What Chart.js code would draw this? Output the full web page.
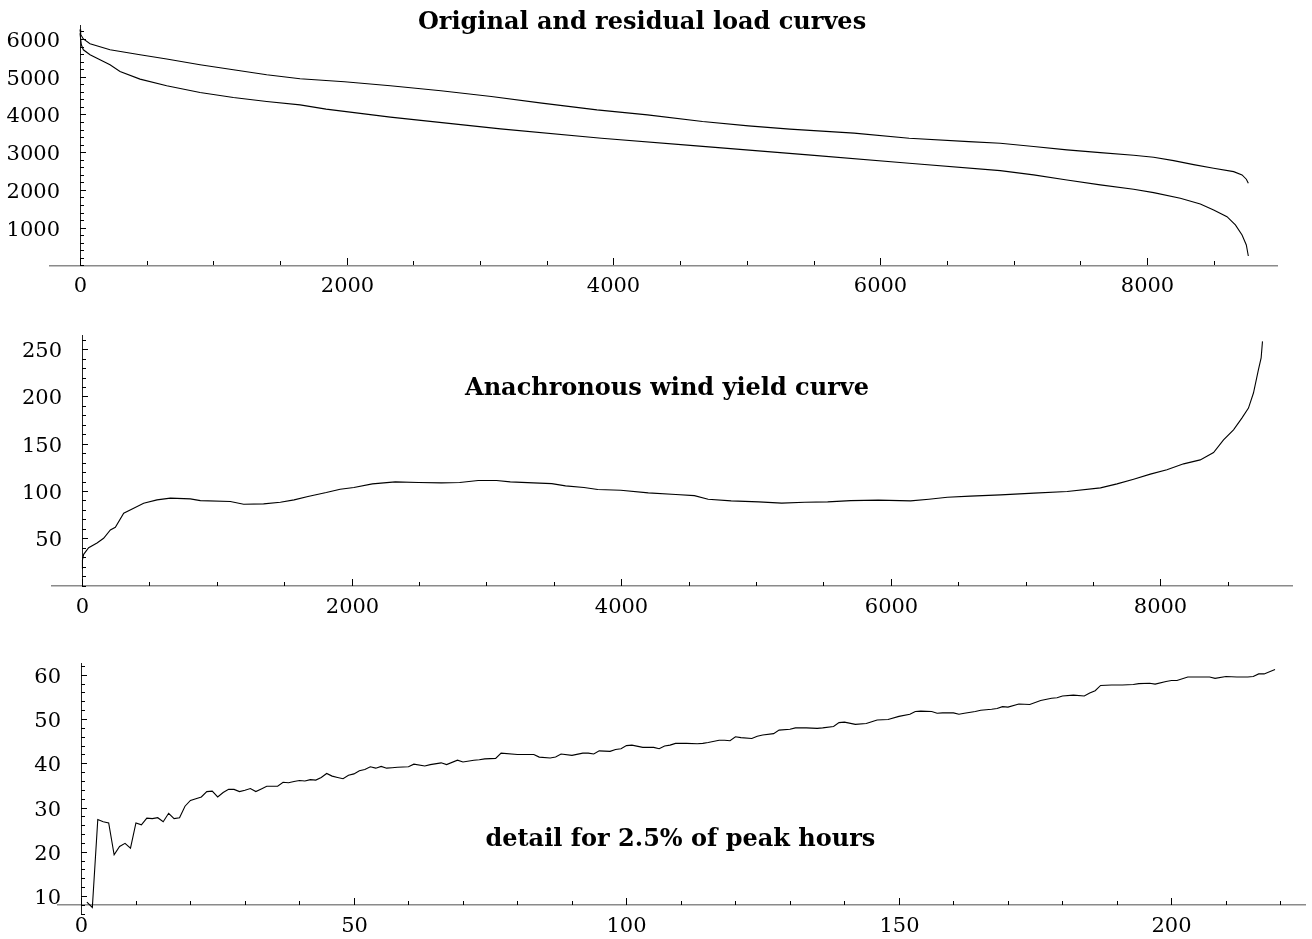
<!DOCTYPE html>
<html>
<head>
<meta charset="utf-8">
<title>Load and wind curves</title>
<script src="https://cdn.jsdelivr.net/npm/chart.js@4.4.1/dist/chart.umd.min.js"></script>
<style>
  html, body { margin: 0; padding: 0; background: #fff; }
  body { width: 1312px; height: 939px; position: relative; overflow: hidden; }
  canvas { position: absolute; left: 0; }
</style>
</head>
<body>
<canvas id="loadchart" width="1312" height="310" style="top:0px"></canvas>
<canvas id="windchart" width="1312" height="310" style="top:310px"></canvas>
<canvas id="detailchart" width="1312" height="319" style="top:620px"></canvas>
<script>
// ---- Data block ----

// Original load duration curve (hours sorted, MW)
const originalHours = [0, 5, 25, 75, 225, 450, 650, 900, 1150, 1400, 1650, 1983, 2327, 2706, 3084,
    3463, 3876, 4255, 4668, 5012, 5322, 5804, 6217, 6664, 6900, 7150, 7400, 7650, 7900, 8050,
    8200, 8350, 8500, 8650, 8713, 8745, 8760];
const originalLoad = [6250, 6120, 6000, 5873, 5713, 5581, 5467, 5316, 5183, 5050, 4944, 4865, 4759, 4626, 4475,
    4300, 4122, 3989, 3812, 3698, 3610, 3504, 3371, 3281, 3235, 3150, 3061, 2989, 2920, 2867,
    2777, 2671, 2576, 2485, 2398, 2284, 2178];

// Residual load duration curve
const residualHours = [0, 10, 25, 75, 150, 225, 300, 450, 650, 900, 1150, 1400, 1650, 1845, 2327,
    3153, 3910, 4599, 5459, 6217, 6900, 7150, 7400, 7650, 7900, 8050, 8250, 8400, 8500, 8600,
    8663, 8713, 8745, 8760];
const residualLoad = [6150, 5846, 5713, 5581, 5448, 5316, 5138, 4936, 4759, 4581, 4449, 4342, 4254, 4141, 3928,
    3618, 3371, 3175, 2928, 2708, 2512, 2398, 2265, 2133, 2019, 1928, 1780, 1629, 1469, 1292,
    1072, 806, 541, 249];

// Anachronous wind yield curve
const windHours = [0, 3, 12, 49, 111, 160, 210, 247, 309, 383, 457, 556, 655, 803, 878,
    1100, 1199, 1347, 1471, 1573, 1676, 1812, 1915, 2017, 2154, 2324, 2495, 2666, 2802, 2939,
    3075, 3177, 3348, 3485, 3587, 3724, 3826, 3997, 4201, 4406, 4543, 4645, 4816, 5020, 5191,
    5362, 5532, 5703, 5908, 6147, 6283, 6420, 6590, 6815, 7062, 7309, 7556, 7679, 7802, 7926,
    8049, 8173, 8296, 8395, 8469, 8543, 8605, 8654, 8691, 8728, 8748, 8758];
const windYield = [18, 27, 33, 40, 45, 50, 58.8, 61.6, 76.5, 81.8, 87, 90.6, 92.4, 91.6, 89.8,
    88.8, 86, 86.3, 88.1, 90.6, 94.1, 98.3, 101.9, 103.6, 107.5, 109.6, 108.9, 108.6, 108.9, 111,
    111, 109.6, 108.6, 107.8, 105.4, 103.6, 101.5, 100.8, 98, 96.2, 95.1, 91.3, 89.5, 88.5, 87.1,
    88.1, 88.5, 89.8, 90.3, 89.5, 91.3, 93.4, 94.5, 95.9, 97.7, 99.4, 103.3, 107.5, 112.5, 117.8,
    122.4, 128.7, 132.9, 140.7, 154.1, 164.7, 177.1, 187.7, 203.6, 228.3, 240.7, 258.3];

// Detail: first 2.5% of peak hours
const detailHours = [1, 2, 3, 4, 5, 6, 7, 8, 9, 10, 11, 12, 13, 14, 15, 16, 17, 18, 19, 20,
    21, 22, 23, 24, 25, 26, 27, 28, 29, 30, 31, 32, 33, 34, 35, 36, 37, 38, 39, 40,
    41, 42, 43, 44, 45, 46, 47, 48, 49, 50, 51, 52, 53, 54, 55, 56, 57, 58, 60, 61,
    63, 64, 66, 67, 69, 70, 72, 73, 74, 76, 77, 80, 83, 84, 86, 87, 88, 90, 92, 93,
    94, 95, 97, 98, 99, 100, 101, 103, 105, 106, 107, 108, 109, 111, 113, 114, 115, 117, 118, 119,
    120, 121, 123, 124, 125, 127, 128, 130, 131, 133, 135, 136, 138, 139, 140, 142, 144, 145, 146, 148,
    150, 152, 153, 154, 156, 157, 158, 160, 161, 162, 164, 165, 167, 168, 169, 170, 172, 174, 176, 178,
    179, 180, 182, 184, 185, 186, 187, 189, 191, 193, 194, 196, 197, 199, 200, 201, 203, 205, 207, 208,
    210, 212, 214, 215, 216, 217, 219];
const detailYield = [8.6, 7.4, 27.3, 26.8, 26.5, 19.3, 21.2, 21.9, 20.8, 26.5, 26.1, 27.6, 27.5, 27.7, 26.8, 28.7, 27.5, 27.7, 30.3, 31.6,
    32.0, 32.4, 33.6, 33.7, 32.4, 33.4, 34.1, 34.1, 33.6, 33.9, 34.3, 33.6, 34.2, 34.8, 34.8, 34.8, 35.7, 35.6, 35.9, 36.1,
    36.0, 36.3, 36.2, 36.8, 37.7, 37.1, 36.8, 36.5, 37.3, 37.6, 38.3, 38.6, 39.2, 38.9, 39.3, 38.9, 39.0, 39.1, 39.2, 39.8,
    39.4, 39.7, 40.1, 39.7, 40.7, 40.3, 40.7, 40.8, 41.0, 41.1, 42.3, 42.0, 42.0, 41.4, 41.2, 41.4, 42.1, 41.8, 42.3, 42.3,
    42.1, 42.8, 42.7, 43.1, 43.3, 44.0, 44.1, 43.6, 43.6, 43.3, 43.9, 44.1, 44.5, 44.5, 44.4, 44.5, 44.7, 45.2, 45.2, 45.1,
    46.0, 45.8, 45.6, 46.1, 46.4, 46.7, 47.5, 47.7, 48.0, 48.0, 47.9, 48.0, 48.3, 49.2, 49.3, 48.8, 49.0, 49.4, 49.8, 49.9,
    50.6, 51.1, 51.7, 51.8, 51.7, 51.3, 51.4, 51.4, 51.1, 51.3, 51.7, 52.0, 52.2, 52.4, 52.8, 52.7, 53.4, 53.3, 54.2, 54.7,
    54.8, 55.2, 55.4, 55.2, 55.9, 56.4, 57.6, 57.7, 57.7, 57.8, 58.0, 58.1, 57.9, 58.5, 58.7, 58.7, 59.5, 59.5, 59.5, 59.2,
    59.6, 59.5, 59.5, 59.6, 60.2, 60.2, 61.2];

// ---- Helpers ----
Chart.defaults.font.family = '"DejaVu Serif", serif';
Chart.defaults.font.size = 21;
Chart.defaults.color = '#000';

// zip two arrays into {x, y} points
const toPoints = (xs, ys) => xs.map((x, i) => ({x: x, y: ys[i]}));

// label only the major ticks, everything else stays a small tick mark
const majorLabel = (every, showZero) => (value) =>
    (value % every === 0 && (showZero || value !== 0)) ? String(value) : '';

// evenly spaced ticks on multiples of step (Chart.js would otherwise start at min)
const stepTicks = (step) => (scale) => {
    const ticks = [];
    for (let v = Math.ceil(scale.min / step) * step; v <= scale.max + 1e-9; v += step) {
        ticks.push({value: Math.round(v * 1000) / 1000});
    }
    scale.ticks = ticks;
};

// Mathematica style axes: ticks pointing into the plot, labels outside
const mmaAxes = {
    id: 'mmaAxes',
    afterDraw(chart) {
        const ctx = chart.ctx;
        ctx.save();
        ctx.strokeStyle = '#000';
        ctx.fillStyle = '#000';
        ctx.lineWidth = 1;
        ctx.font = '21px "DejaVu Serif", serif';
        ctx.textBaseline = 'alphabetic';
        Object.values(chart.scales).forEach(scale => {
            const pos = scale.options.position;
            const crossId = Object.keys(pos)[0];
            const cross = Math.round(chart.scales[crossId].getPixelForValue(pos[crossId]));
            scale.ticks.forEach(tick => {
                const p = Math.round(scale.getPixelForValue(tick.value)) + 0.5;
                const major = tick.label !== '';
                ctx.beginPath();
                if (scale.isHorizontal()) {
                    ctx.moveTo(p, cross);
                    ctx.lineTo(p, cross - (major ? 7 : 4));
                } else {
                    ctx.moveTo(cross, p);
                    ctx.lineTo(cross + (major ? 6 : 4), p);
                }
                ctx.stroke();
                if (!major) return;
                if (scale.isHorizontal()) {
                    ctx.textAlign = 'center';
                    ctx.fillText(tick.label, p, cross + 27);
                } else {
                    ctx.textAlign = 'right';
                    ctx.fillText(tick.label, cross - 20, p + 7.5);
                }
            });
        });
        ctx.restore();
    }
};

// Plot label written at a data position (baseline)
const plotLabel = {
    id: 'plotLabel',
    afterDraw(chart, args, opts) {
        const ctx = chart.ctx;
        ctx.save();
        ctx.font = 'bold 24px "DejaVu Serif", serif';
        ctx.fillStyle = '#000';
        ctx.textAlign = 'center';
        ctx.textBaseline = 'alphabetic';
        ctx.fillText(opts.text, chart.scales.x.getPixelForValue(opts.x), chart.scales.y.getPixelForValue(opts.y));
        ctx.restore();
    }
};

// axis builder
function axis(min, max, step, every, crossAt, showZero, border) {
    return {
        type: 'linear',
        min: min,
        max: max,
        position: crossAt,
        border: border,
        grid: {display: false, drawTicks: false},
        afterBuildTicks: stepTicks(step),
        ticks: {
            display: false,  // drawn by mmaAxes
            autoSkip: false,
            callback: majorLabel(every, showZero)
        }
    };
}

const xBorder = {display: true, color: '#8a8a8a', width: 1.5};
const yBorder = {display: true, color: '#222', width: 1};

function lineSet(points) {
    return {
        data: points,
        borderColor: '#000',
        borderWidth: 1.1,
        pointRadius: 0,
        tension: 0,
        fill: false
    };
}

function makeChart(id, datasets, scales, label, padding) {
    return new Chart(document.getElementById(id), {
        type: 'line',
        data: {datasets: datasets},
        options: {
            responsive: false,
            animation: false,
            events: [],
            layout: {padding: padding},
            plugins: {
                legend: {display: false},
                tooltip: {enabled: false},
                plotLabel: label
            },
            scales: scales
        },
        plugins: [mmaAxes, plotLabel]
    });
}

// ---- Charts ----
makeChart('loadchart',
    [lineSet(toPoints(originalHours, originalLoad)), lineSet(toPoints(residualHours, residualLoad))],
    {
        x: axis(-225, 8975, 500, 2000, {y: 0}, true, xBorder),
        y: axis(0, 6370, 200, 1000, {x: 0}, false, yBorder)
    },
    {text: 'Original and residual load curves', x: 4214, y: 6264},
    {top: 25, bottom: 44.6, left: 50, right: 35});

makeChart('windchart',
    [lineSet(toPoints(windHours, windYield))],
    {
        x: axis(-223, 8977, 500, 2000, {y: 0}, true, xBorder),
        y: axis(0, 265, 10, 50, {x: 0}, false, yBorder)
    },
    {text: 'Anachronous wind yield curve', x: 4340, y: 201.5},
    {top: 25, bottom: 34.5, left: 52, right: 20});

makeChart('detailchart',
    [lineSet(toPoints(detailHours, detailYield))],
    {
        x: axis(-4.3, 224.5, 10, 50, {y: 8}, true, xBorder),
        y: axis(6, 62.6, 2, 10, {x: 0}, false, yBorder)
    },
    {text: 'detail for 2.5% of peak hours', x: 109.9, y: 21.2},
    {top: 43.3, bottom: 25.3, left: 58, right: 7});
</script>
</body>
</html>
